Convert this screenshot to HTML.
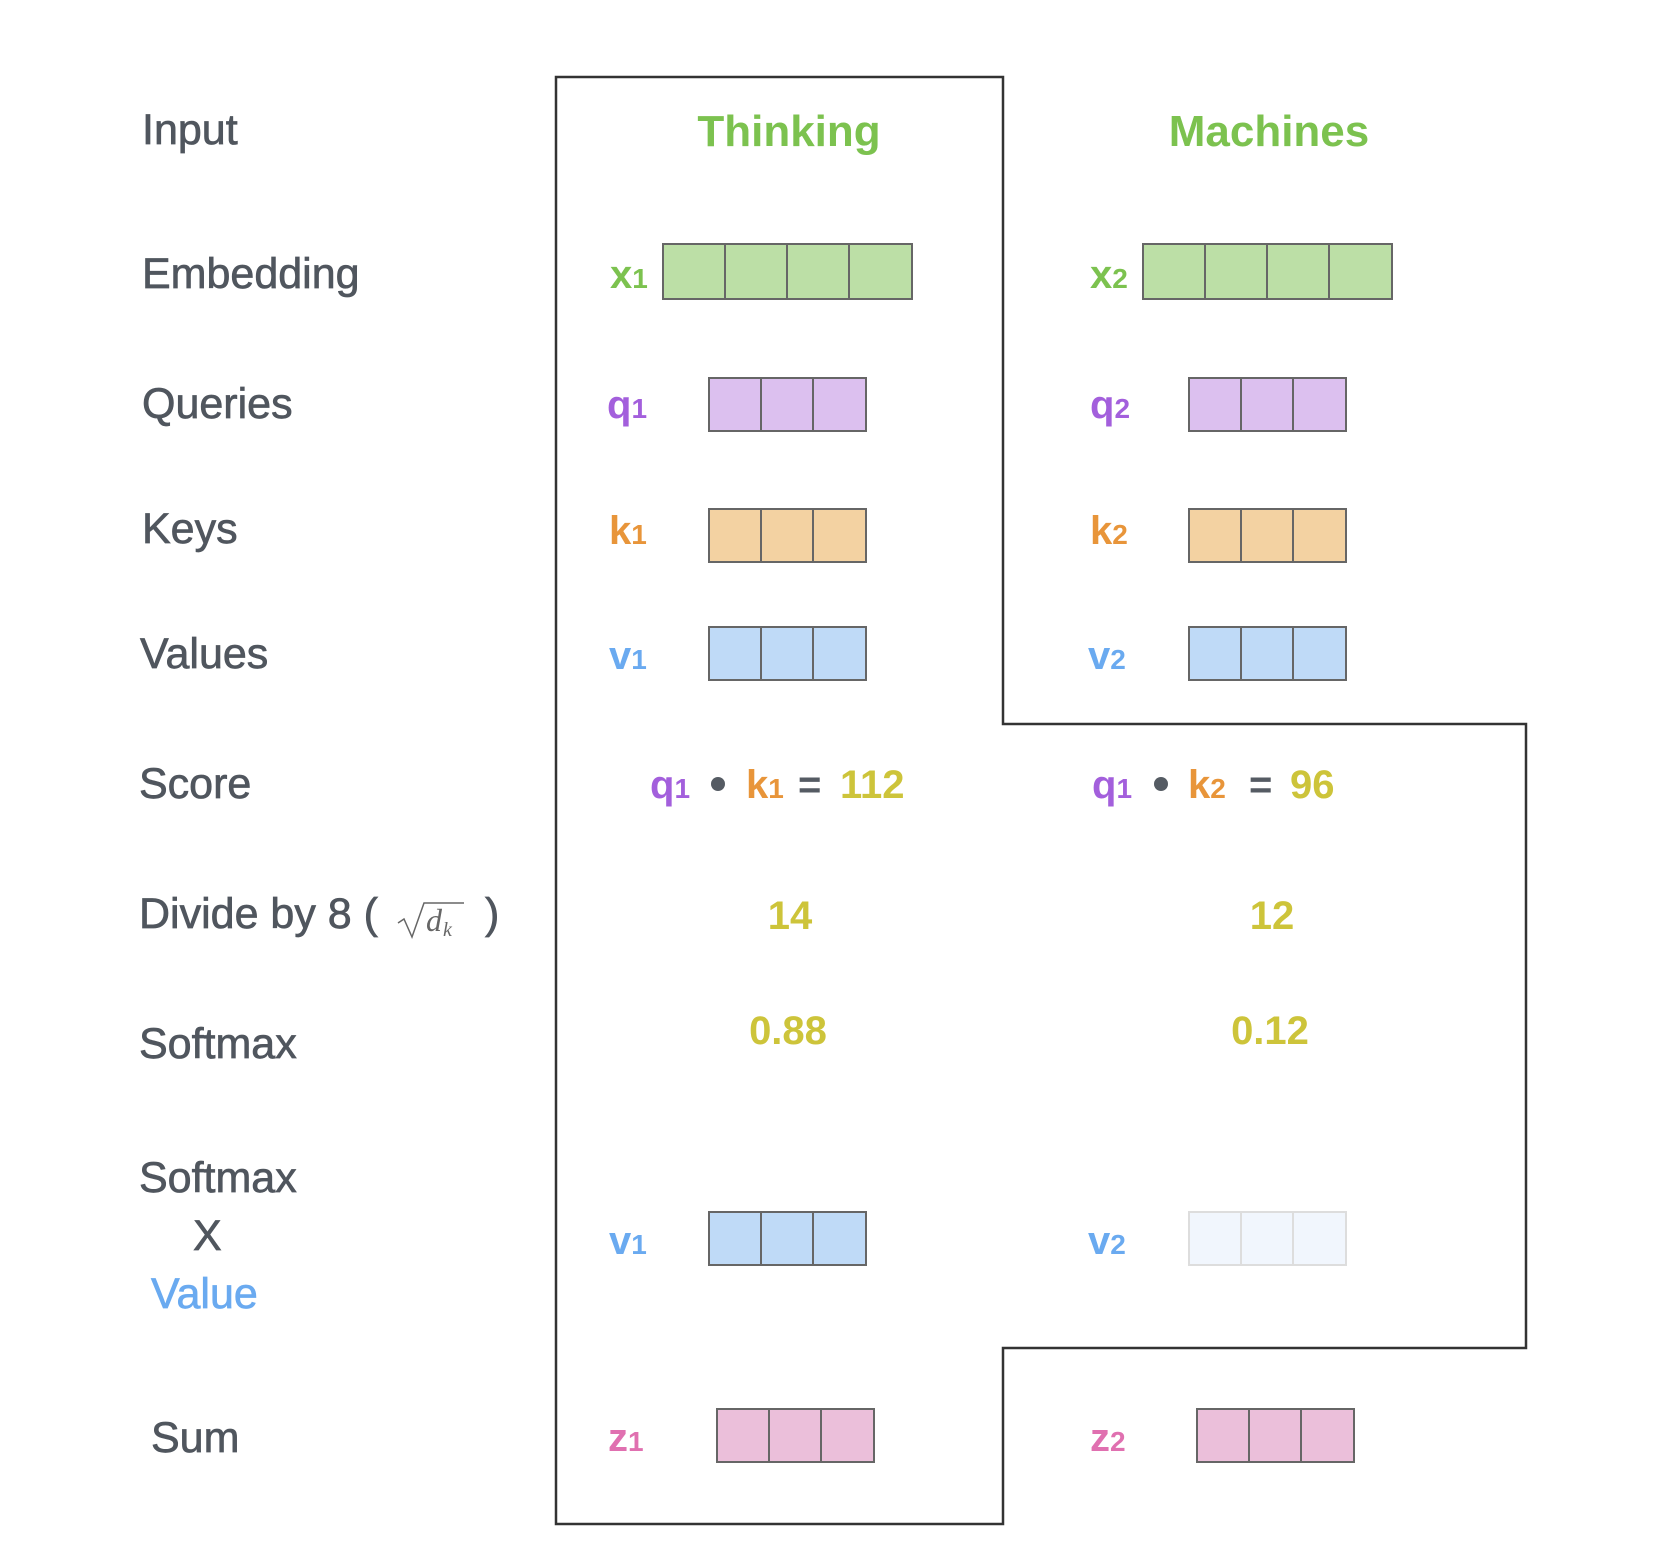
<!DOCTYPE html>
<html><head><meta charset="utf-8"><style>
html,body{margin:0;padding:0;background:#fff;}
svg{display:block;}
text{font-family:"Liberation Sans",sans-serif;}
.lab{fill:#50565e;font-size:43px;stroke:#50565e;stroke-width:0.7px;}
.b{font-weight:bold;}
</style></head><body>
<svg width="1670" height="1560" viewBox="0 0 1670 1560" xmlns="http://www.w3.org/2000/svg">
<path d="M556 77 H1003 V724 H1526 V1348 H1003 V1524 H556 Z" fill="none" stroke="#333" stroke-width="2.5"/>
<g class="lab">
<text x="142" y="144">Input</text>
<text x="142" y="288">Embedding</text>
<text x="142" y="418">Queries</text>
<text x="142" y="543">Keys</text>
<text x="140" y="668">Values</text>
<text x="139" y="798">Score</text>
<text x="139" y="928">Divide by 8 (</text>
<text x="485" y="928">)</text>
<text x="139" y="1058">Softmax</text>
<text x="139" y="1192">Softmax</text>
<text x="193" y="1250">X</text>
<text x="151" y="1308" style="fill:#6aaaf0;stroke:#6aaaf0">Value</text>
<text x="151" y="1452">Sum</text>
</g>
<g fill="none" stroke="#666" stroke-width="1.5"><path d="M398 923 l6 -4 l8 18 l12 -34 h40"/></g>
<text x="426" y="931" style="font-family:'Liberation Serif',serif;font-style:italic;font-size:32px;fill:#666">d</text>
<text x="443" y="936" style="font-family:'Liberation Serif',serif;font-style:italic;font-size:20px;fill:#666">k</text>

<g class="b" style="font-size:44px;fill:#7cc24f" text-anchor="middle">
<text x="789" y="146">Thinking</text>
<text x="1269" y="146">Machines</text>
</g>

<defs>
<g id="b4"><rect x="0" y="0" width="249" height="55" stroke="#666" stroke-width="2"/><path d="M62 0V55M124 0V55M186 0V55" stroke="#666" stroke-width="2"/></g>
<g id="b3"><rect x="0" y="0" width="157" height="53" stroke="#666" stroke-width="2"/><path d="M52 0V53M104 0V53" stroke="#666" stroke-width="2"/></g>
</defs>
<use href="#b4" x="663" y="244" fill="#bcdfa6"/>
<use href="#b4" x="1143" y="244" fill="#bcdfa6"/>
<use href="#b3" x="709" y="378" fill="#dcc0ef"/>
<use href="#b3" x="1189" y="378" fill="#dcc0ef"/>
<use href="#b3" x="709" y="509" fill="#f3d2a2"/>
<use href="#b3" x="1189" y="509" fill="#f3d2a2"/>
<use href="#b3" x="709" y="627" fill="#bfdaf7"/>
<use href="#b3" x="1189" y="627" fill="#bfdaf7"/>
<use href="#b3" x="709" y="1212" fill="#bfdaf7"/>
<g><rect x="1189" y="1212" width="157" height="53" fill="#f1f6fd" stroke="#ddd" stroke-width="2"/><path d="M1241 1212V1265M1293 1212V1265" stroke="#ddd" stroke-width="2"/></g>
<use href="#b3" x="717" y="1409" fill="#ebbfda"/>
<use href="#b3" x="1197" y="1409" fill="#ebbfda"/>

<g class="b" style="font-size:40px">
<text x="610" y="288" fill="#7cc24f">x<tspan font-size="28">1</tspan></text>
<text x="1090" y="288" fill="#7cc24f">x<tspan font-size="28">2</tspan></text>
<text x="607" y="418" fill="#a35fdc">q<tspan font-size="28">1</tspan></text>
<text x="1090" y="418" fill="#a35fdc">q<tspan font-size="28">2</tspan></text>
<text x="609" y="544" fill="#e8953a">k<tspan font-size="28">1</tspan></text>
<text x="1090" y="544" fill="#e8953a">k<tspan font-size="28">2</tspan></text>
<text x="609" y="669" fill="#6aaaf0">v<tspan font-size="28">1</tspan></text>
<text x="1088" y="669" fill="#6aaaf0">v<tspan font-size="28">2</tspan></text>
<text x="609" y="1254" fill="#6aaaf0">v<tspan font-size="28">1</tspan></text>
<text x="1088" y="1254" fill="#6aaaf0">v<tspan font-size="28">2</tspan></text>
<text x="608" y="1451" fill="#e070b0">z<tspan font-size="28">1</tspan></text>
<text x="1090" y="1451" fill="#e070b0">z<tspan font-size="28">2</tspan></text>

<text x="650" y="798" fill="#a35fdc">q<tspan font-size="28">1</tspan></text>
<circle cx="718" cy="784" r="7" fill="#555b63"/>
<text x="746" y="798" fill="#e8953a">k<tspan font-size="28">1</tspan></text>
<text x="798" y="798" fill="#555b63">=</text>
<text x="840" y="798" fill="#cdc43a">112</text>
<text x="1092" y="798" fill="#a35fdc">q<tspan font-size="28">1</tspan></text>
<circle cx="1161" cy="784" r="7" fill="#555b63"/>
<text x="1188" y="798" fill="#e8953a">k<tspan font-size="28">2</tspan></text>
<text x="1249" y="798" fill="#555b63">=</text>
<text x="1290" y="798" fill="#cdc43a">96</text>
</g>
<g class="b" style="font-size:40px;fill:#cdc43a" text-anchor="middle">
<text x="790" y="929">14</text>
<text x="1272" y="929">12</text>
<text x="788" y="1044">0.88</text>
<text x="1270" y="1044">0.12</text>
</g>
</svg>
</body></html>
